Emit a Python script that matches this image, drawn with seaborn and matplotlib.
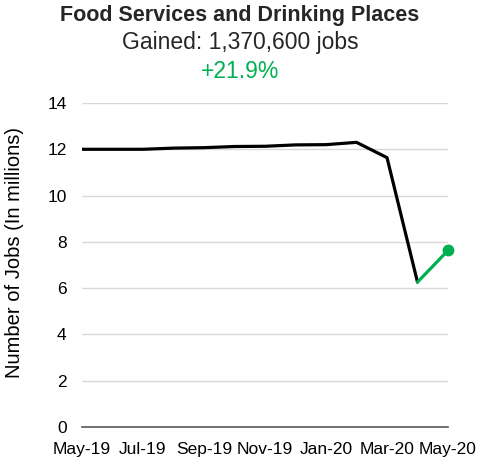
import matplotlib
matplotlib.use("Agg")
import matplotlib.pyplot as plt
import seaborn as sns
import pandas as pd

months = ["May-19", "Jun-19", "Jul-19", "Aug-19", "Sep-19", "Oct-19", "Nov-19",
          "Dec-19", "Jan-20", "Feb-20", "Mar-20", "Apr-20", "May-20"]
jobs = [12.00, 12.00, 12.00, 12.05, 12.07, 12.12, 12.13, 12.19, 12.20, 12.30, 11.64, 6.26, 7.63]
tick_labels = ["May-19", "Jul-19", "Sep-19", "Nov-19", "Jan-20", "Mar-20", "May-20"]
yticks = [0, 2, 4, 6, 8, 10, 12, 14]

title = "Food Services and Drinking Places"
subtitle = "Gained: 1,370,600 jobs"
change = "+21.9%"

sns.set_theme(style="white")
plt.rcParams['font.family'] = ['Liberation Sans', 'DejaVu Sans']

df = pd.DataFrame({"idx": range(len(months)), "month": months, "jobs": jobs})
black = df.iloc[:-1]
green = df.iloc[-2:]

fig = plt.figure(figsize=(4.8, 4.68), dpi=100)
ax = fig.add_axes([82/480, 1 - 427/468, (448-82)/480, (427-103)/468])

sns.lineplot(data=black, x="idx", y="jobs", ax=ax, color="black", linewidth=2.3)
sns.lineplot(data=green, x="idx", y="jobs", ax=ax, color="#00B050", linewidth=2.3)
ax.plot(green["idx"].iloc[-1:], green["jobs"].iloc[-1:], 'o', color="#00B050",
        markersize=7.5, clip_on=False, zorder=5)

ax.set_xlim(0, len(months) - 1)
ax.set_ylim(0, 14)
ax.set_yticks(yticks)
ax.set_yticklabels([str(v) for v in yticks])
ax.set_xticks([months.index(m) for m in tick_labels])
ax.set_xticklabels(tick_labels)
ax.tick_params(axis='both', labelsize=12.5, colors="black", length=0)
ax.tick_params(axis='y', pad=11)
ax.tick_params(axis='x', pad=11)
ax.yaxis.grid(True, color="#D9D9D9", linewidth=1)
ax.set_axisbelow(True)
for s in ["top", "right", "left"]:
    ax.spines[s].set_visible(False)
ax.spines["bottom"].set_color("#595959")
ax.spines["bottom"].set_linewidth(1.2)
ax.set_xlabel("")
ax.set_ylabel("Number of Jobs (In millions)", fontsize=14.5, color="black")
ax.yaxis.set_label_coords(-(82 - 24) / 366, (427 - 252) / 324)

fig.text(0.5, 1 - 16/468, title, ha="center", va="center", fontsize=15.5, fontweight="bold")
fig.text(0.5, 1 - 42/468, subtitle, ha="center", va="center", fontsize=16.5)
fig.text(0.5, 1 - 72/468, change, ha="center", va="center", fontsize=16.5, color="#00B050")

fig.savefig("out.png", dpi=100)
